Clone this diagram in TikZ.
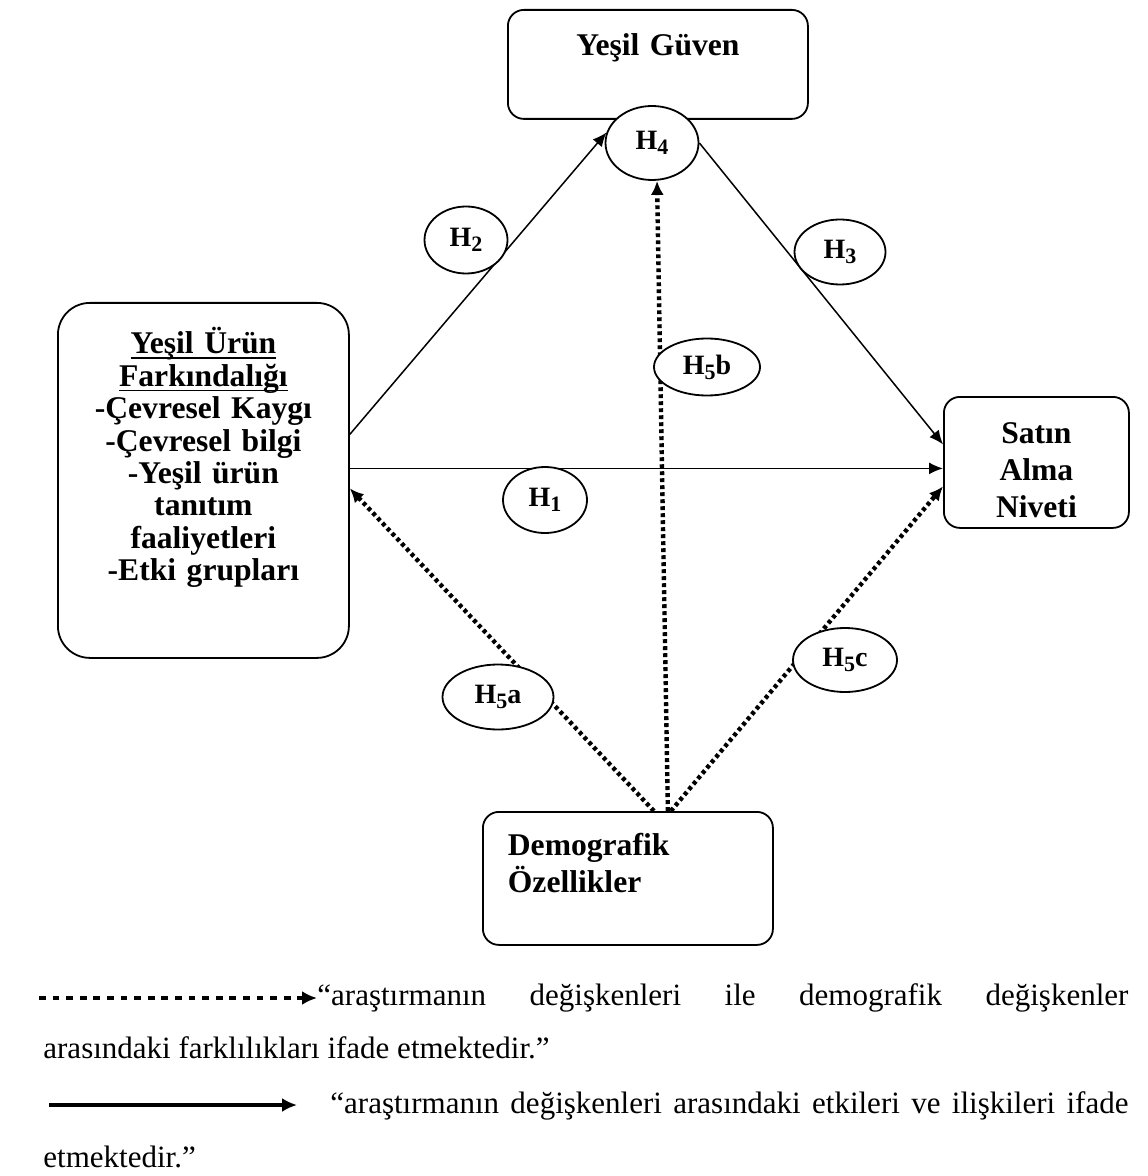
\documentclass[tikz,border=0pt]{standalone}
\usepackage{fontspec}
\setmainfont{Liberation Serif}
\usetikzlibrary{shapes.geometric, arrows.meta, backgrounds, calc}
\newcommand{\hsub}[1]{\raisebox{-2.5pt}{\fontsize{11}{11}\selectfont #1}}
\newcommand{\ulfix}[1]{\leavevmode\setbox0\hbox{#1}\rlap{\rule[-2.6pt]{\wd0}{0.9pt}}\box0}

\begin{document}
\begin{tikzpicture}[
    x=0.5pt, y=-0.5pt,
    box/.style={rectangle, draw, line width=0.9pt, rounded corners=8pt, inner sep=0pt, align=center, font=\fontsize{15.8}{18.5}\selectfont\bfseries},
    hyp/.style={ellipse, draw, fill=white, line width=0.9pt, inner sep=0pt, font=\fontsize{14}{16}\selectfont\bfseries},
    arrow/.style={-{Latex[length=7pt,width=6pt]}, line width=0.75pt},
    dotarrow/.style={-{Latex[length=7pt,width=6.5pt]}, line width=2.2pt, dash pattern=on 1.9pt off 1.6pt},
    legdot/.style={-{Latex[length=7.5pt,width=7pt]}, line width=2.4pt, dash pattern=on 3.4pt off 3.4pt},
    legarrow/.style={-{Latex[length=7.5pt,width=7pt]}, line width=2pt},
    legtext/.style={inner sep=0pt, anchor=base west, font=\fontsize{15.5}{18}\selectfont}
]
    \useasboundingbox (0,0) rectangle (1147,1176);

    % Yesil Guven
    \node[box, anchor=north west, text width=150pt, text height=23pt, text depth=31.5pt] (guven) at (507,9) {Yeşil Güven};

    % Yesil Urun Farkindaligi
    \node[box, rounded corners=16pt, anchor=north west, text width=145.5pt, text height=25.5pt, text depth=152pt,
          font=\fontsize{15.8}{16.2}\selectfont\bfseries\lineskiplimit-10pt] (aware) at (57,302) {
        \ulfix{Yeşil Ürün}\\
        \ulfix{Farkındalığı}\\
        -Çevresel Kaygı\\
        -Çevresel bilgi\\
        -Yeşil ürün\\
        tanıtım\\
        faaliyetleri\\
        -Etki grupları
    };

    % Satin Alma Niyeti
    \node[box, anchor=north west, text width=92.5pt, text height=23.5pt, text depth=42pt] (intent) at (943,396) {Satın\\Alma\\Niveti};

    % Demografik Ozellikler
    \node[box, anchor=north west, align=left, text width=120pt, inner xsep=12.5pt, text height=22pt, text depth=44.5pt] (demo) at (482,811) {Demografik\\Özellikler};

    % Hypotheses
    \node[hyp, minimum width=46.5pt, minimum height=37pt] (h4) at (652,143) {H\hsub{4}};
    \node[hyp, minimum width=41.5pt, minimum height=33.5pt] (h2) at (466,240) {H\hsub{2}};
    \node[hyp, minimum width=45.5pt, minimum height=32.5pt] (h3) at (840,252) {H\hsub{3}};
    \node[hyp, minimum width=53pt, minimum height=28.5pt] (h5b) at (707,367) {H\hsub{5}b};
    \node[hyp, minimum width=42pt, minimum height=33pt] (h1) at (545,500) {H\hsub{1}};
    \node[hyp, minimum width=55.5pt, minimum height=32.5pt] (h5a) at (498,697) {H\hsub{5}a};
    \node[hyp, minimum width=52pt, minimum height=32pt] (h5c) at (845,660) {H\hsub{5}c};

    % Relationships
    \begin{scope}[on background layer]
    \draw[arrow] ($(aware.east)+(0,-12)$) coordinate (h1s) -- (h1s -| intent.west);
    \draw[arrow] ($(aware.east)+(0,-46)$) -- (h4.167);
    \draw[arrow] (h4.east) -- ($(intent.west)+(0,-18)$);
    \draw[dotarrow] ($(demo.north)+(40,0)$) -- ($(h4.south)+(5,0)$);
    \draw[dotarrow] ($(demo.north)+(26,0)$) -- ($(aware.east)+(0,8)$);
    \draw[dotarrow] ($(demo.north)+(43,0)$) -- ($(intent.west)+(0,24)$);
    \end{scope}

    % Legend
    \node[legtext] (leg1) at (317,1005) {\makebox[405.5pt][s]{“araştırmanın değişkenleri ile demografik değişkenler}};
    \node[legtext] (leg2) at (43,1058) {arasındaki farklılıkları ifade etmektedir.”};
    \node[legtext] (leg3) at (330,1113) {\makebox[399pt][s]{“araştırmanın değişkenleri arasındaki etkileri ve ilişkileri ifade}};
    \node[legtext] (leg4) at (43,1167) {etmektedir.”};
    \coordinate (dotstart) at (39,998);
    \coordinate (solstart) at (49,1105);
    \draw[legdot] (dotstart) -- (dotstart -| leg1.west);
    \draw[legarrow] (solstart) -- ($(solstart -| leg3.west)+(-33,0)$);

\end{tikzpicture}
\end{document}
